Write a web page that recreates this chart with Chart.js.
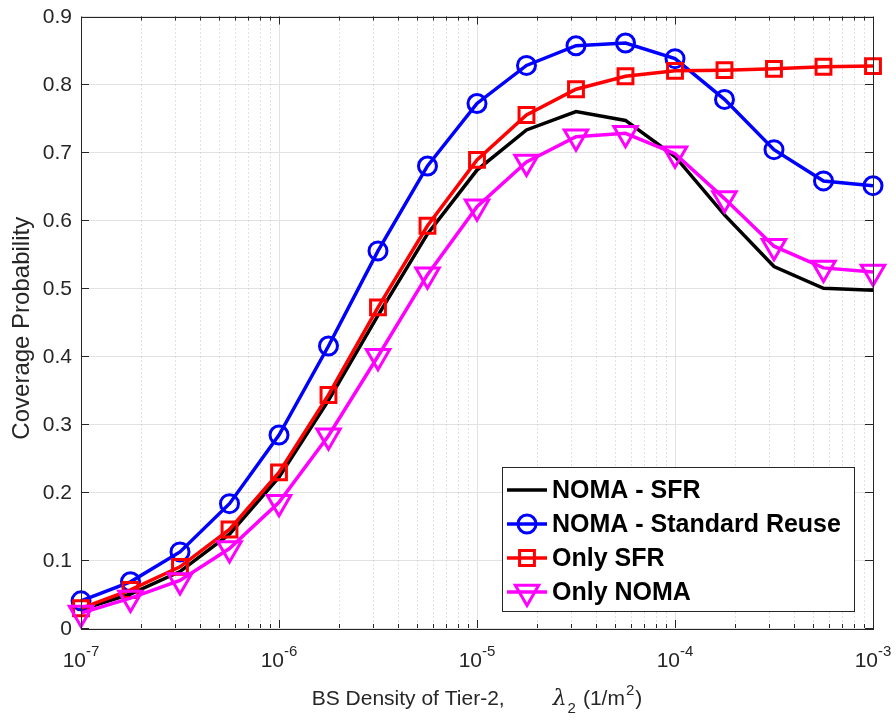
<!DOCTYPE html>
<html>
<head>
<meta charset="utf-8">
<script src="https://cdn.jsdelivr.net/npm/chart.js@4.4.1/dist/chart.umd.min.js"></script>
<style>
  html, body { margin: 0; padding: 0; background: #fff; }
  canvas { display: block; }
</style>
</head>
<body>
<canvas id="chart" width="896" height="723"></canvas>
<script>
// BS density of tier-2 (1/m^2), 4 points per decade
const densities = [1e-7, 1.778e-7, 3.162e-7, 5.623e-7, 1e-6, 1.778e-6, 3.162e-6, 5.623e-6,
    1e-5, 1.778e-5, 3.162e-5, 5.623e-5, 1e-4, 1.778e-4, 3.162e-4, 5.623e-4, 1e-3];

const nomaSfr = [0.027, 0.050, 0.083, 0.138, 0.222, 0.335, 0.460, 0.580, 0.674,
    0.733, 0.760, 0.747, 0.694, 0.608, 0.532, 0.500, 0.497];
const nomaStdReuse = [0.040, 0.068, 0.112, 0.183, 0.284, 0.415, 0.555, 0.680, 0.772,
    0.828, 0.857, 0.861, 0.838, 0.778, 0.704, 0.658, 0.651];
const onlySfr = [0.029, 0.056, 0.090, 0.145, 0.229, 0.343, 0.472, 0.592, 0.689,
    0.755, 0.793, 0.812, 0.820, 0.821, 0.823, 0.826, 0.827];
const onlyNoma = [0.022, 0.044, 0.070, 0.117, 0.185, 0.283, 0.400, 0.520, 0.620,
    0.686, 0.723, 0.728, 0.698, 0.632, 0.562, 0.530, 0.524];

const seriesNames = ['NOMA - SFR', 'NOMA - Standard Reuse', 'Only SFR', 'Only NOMA'];

// axis ticks
const xDecades = [1e-7, 1e-6, 1e-5, 1e-4, 1e-3];
const xExponents = ['-7', '-6', '-5', '-4', '-3'];
const xMinorSteps = [2, 3, 4, 5, 6, 7, 8, 9];
const yTicks = [0, 0.1, 0.2, 0.3, 0.4, 0.5, 0.6, 0.7, 0.8, 0.9];
const yTickLabels = ['0', '0.1', '0.2', '0.3', '0.4', '0.5', '0.6', '0.7', '0.8', '0.9'];

const AXIS_COLOR = '#262626';
const FONT = '"Liberation Sans", Arial, Helvetica, sans-serif';

function toPoints(values) {
    return values.map((v, i) => ({ x: densities[i], y: v }));
}

function minorValues() {
    const out = [];
    for (let d = 0; d < xDecades.length - 1; d++) {
        xMinorSteps.forEach(m => out.push(xDecades[d] * m));
    }
    return out;
}

// MATLAB-style box, ticks, labels and legend
const matlabAxes = {
    id: 'matlabAxes',
    beforeDatasetsDraw(chart) {
        const { ctx, chartArea: a, scales: { x } } = chart;
        ctx.save();
        ctx.strokeStyle = '#c4c4c4';
        ctx.lineWidth = 1;
        ctx.setLineDash([1, 3]);
        minorValues().forEach(v => {
            const px = Math.round(x.getPixelForValue(v)) + 0.5;
            ctx.beginPath();
            ctx.moveTo(px, a.top);
            ctx.lineTo(px, a.bottom);
            ctx.stroke();
        });
        ctx.restore();
    },
    afterDraw(chart) {
        const { ctx, chartArea: a, scales: { x, y } } = chart;
        ctx.save();

        // box
        ctx.strokeStyle = AXIS_COLOR;
        ctx.lineWidth = 1;
        ctx.strokeRect(Math.round(a.left) + 0.5, Math.round(a.top) + 0.5,
            Math.round(a.right - a.left), Math.round(a.bottom - a.top));

        // tick marks
        ctx.beginPath();
        xDecades.forEach(v => {
            const px = Math.round(x.getPixelForValue(v)) + 0.5;
            ctx.moveTo(px, a.bottom); ctx.lineTo(px, a.bottom - 8);
            ctx.moveTo(px, a.top); ctx.lineTo(px, a.top + 8);
        });
        minorValues().forEach(v => {
            const px = Math.round(x.getPixelForValue(v)) + 0.5;
            ctx.moveTo(px, a.bottom); ctx.lineTo(px, a.bottom - 4);
            ctx.moveTo(px, a.top); ctx.lineTo(px, a.top + 4);
        });
        yTicks.forEach(v => {
            const py = Math.round(y.getPixelForValue(v)) + 0.5;
            ctx.moveTo(a.left, py); ctx.lineTo(a.left + 8, py);
            ctx.moveTo(a.right, py); ctx.lineTo(a.right - 8, py);
        });
        ctx.stroke();

        // y tick labels
        ctx.fillStyle = AXIS_COLOR;
        ctx.font = `21px ${FONT}`;
        ctx.textAlign = 'right';
        ctx.textBaseline = 'middle';
        yTicks.forEach((v, i) => {
            ctx.fillText(yTickLabels[i], a.left - 9, y.getPixelForValue(v) + 1);
        });

        // x tick labels: 10 with superscript exponent
        ctx.textAlign = 'left';
        ctx.textBaseline = 'alphabetic';
        xDecades.forEach((v, i) => {
            const px = x.getPixelForValue(v);
            ctx.font = `21px ${FONT}`;
            const wBase = ctx.measureText('10').width;
            ctx.font = `15px ${FONT}`;
            const wExp = ctx.measureText(xExponents[i]).width;
            const start = px - (wBase + wExp) / 2;
            ctx.font = `21px ${FONT}`;
            ctx.fillText('10', start, a.bottom + 39);
            ctx.font = `15px ${FONT}`;
            ctx.fillText(xExponents[i], start + wBase, a.bottom + 28);
        });

        // x axis title
        const base = a.bottom + 77;
        const parts = [
            { t: 'BS Density of Tier-2,', f: `21px ${FONT}`, dy: 0, gap: 0 },
            { t: 'λ', f: `italic 22px "DejaVu Serif", serif`, dy: 0, gap: 48 },
            { t: '2', f: `15px ${FONT}`, dy: 8, gap: 1 },
            { t: '(1/m', f: `21px ${FONT}`, dy: 0, gap: 7 },
            { t: '2', f: `15px ${FONT}`, dy: -10, gap: 1 },
            { t: ')', f: `21px ${FONT}`, dy: 0, gap: 1 }
        ];
        let total = 0;
        parts.forEach(p => { ctx.font = p.f; p.w = ctx.measureText(p.t).width; total += p.gap + p.w; });
        let cx = (a.left + a.right) / 2 - total / 2;
        parts.forEach(p => {
            cx += p.gap;
            ctx.font = p.f;
            ctx.fillText(p.t, cx, base + p.dy);
            cx += p.w;
        });

        // y axis title
        ctx.save();
        ctx.translate(29, (a.top + a.bottom) / 2 + 6);
        ctx.rotate(-Math.PI / 2);
        ctx.textAlign = 'center';
        ctx.font = `24px ${FONT}`;
        ctx.fillText('Coverage Probability', 0, 0);
        ctx.restore();

        // legend
        const lx = 502, ly = 467, lw = 352, lh = 144;
        ctx.fillStyle = '#ffffff';
        ctx.fillRect(lx, ly, lw, lh);
        ctx.strokeStyle = AXIS_COLOR;
        ctx.lineWidth = 1;
        ctx.strokeRect(lx + 0.5, ly + 0.5, lw, lh);
        chart.data.datasets.forEach((ds, i) => {
            const ry = ly + 23 + i * 34;
            ctx.strokeStyle = ds.borderColor;
            ctx.lineWidth = ds.borderWidth;
            ctx.beginPath();
            ctx.moveTo(507, ry);
            ctx.lineTo(547, ry);
            ctx.stroke();
            if (ds.pointRadius > 0) {
                ctx.fillStyle = 'rgba(0,0,0,0)';
                ctx.lineWidth = ds.pointBorderWidth;
                Chart.helpers.drawPoint(ctx, {
                    pointStyle: ds.pointStyle,
                    radius: ds.pointRadius,
                    rotation: ds.pointRotation || 0,
                    borderWidth: ds.pointBorderWidth
                }, 527, ry);
            }
            ctx.fillStyle = '#000000';
            ctx.font = `bold 25px ${FONT}`;
            ctx.textAlign = 'left';
            ctx.textBaseline = 'middle';
            ctx.fillText(ds.label, 552, ry + 1);
        });

        ctx.restore();
    }
};

const lineCommon = {
    borderWidth: 3.5,
    pointBorderWidth: 3,
    pointBackgroundColor: 'rgba(0,0,0,0)',
    tension: 0,
    clip: false
};

new Chart(document.getElementById('chart'), {
    type: 'line',
    data: {
        datasets: [
            { ...lineCommon, label: seriesNames[0], data: toPoints(nomaSfr),
              borderColor: '#000000', pointRadius: 0, order: 4 },
            { ...lineCommon, label: seriesNames[1], data: toPoints(nomaStdReuse),
              borderColor: '#0000ff', pointBorderColor: '#0000ff',
              pointStyle: 'circle', pointRadius: 9, order: 3 },
            { ...lineCommon, label: seriesNames[2], data: toPoints(onlySfr),
              borderColor: '#ff0000', pointBorderColor: '#ff0000',
              pointStyle: 'rect', pointRadius: 10.5, order: 2 },
            { ...lineCommon, label: seriesNames[3], data: toPoints(onlyNoma),
              borderColor: '#ff00ff', pointBorderColor: '#ff00ff',
              pointStyle: 'triangle', pointRotation: 180, pointRadius: 13.5, order: 1 }
        ]
    },
    options: {
        responsive: false,
        animation: false,
        layout: { padding: { left: 81, right: 23, top: 14, bottom: 95 } },
        plugins: {
            legend: { display: false },
            tooltip: { enabled: false }
        },
        scales: {
            x: {
                type: 'logarithmic',
                min: 1e-7,
                max: 1e-3,
                afterBuildTicks: (scale) => { scale.ticks = xDecades.map(v => ({ value: v })); },
                ticks: { display: false },
                grid: { color: '#e2e2e2', lineWidth: 1, drawTicks: false },
                border: { display: false }
            },
            y: {
                min: 0,
                max: 0.9,
                afterBuildTicks: (scale) => { scale.ticks = yTicks.map(v => ({ value: v })); },
                ticks: { display: false },
                grid: { color: '#e2e2e2', lineWidth: 1, drawTicks: false },
                border: { display: false }
            }
        }
    },
    plugins: [matlabAxes]
});
</script>
</body>
</html>
